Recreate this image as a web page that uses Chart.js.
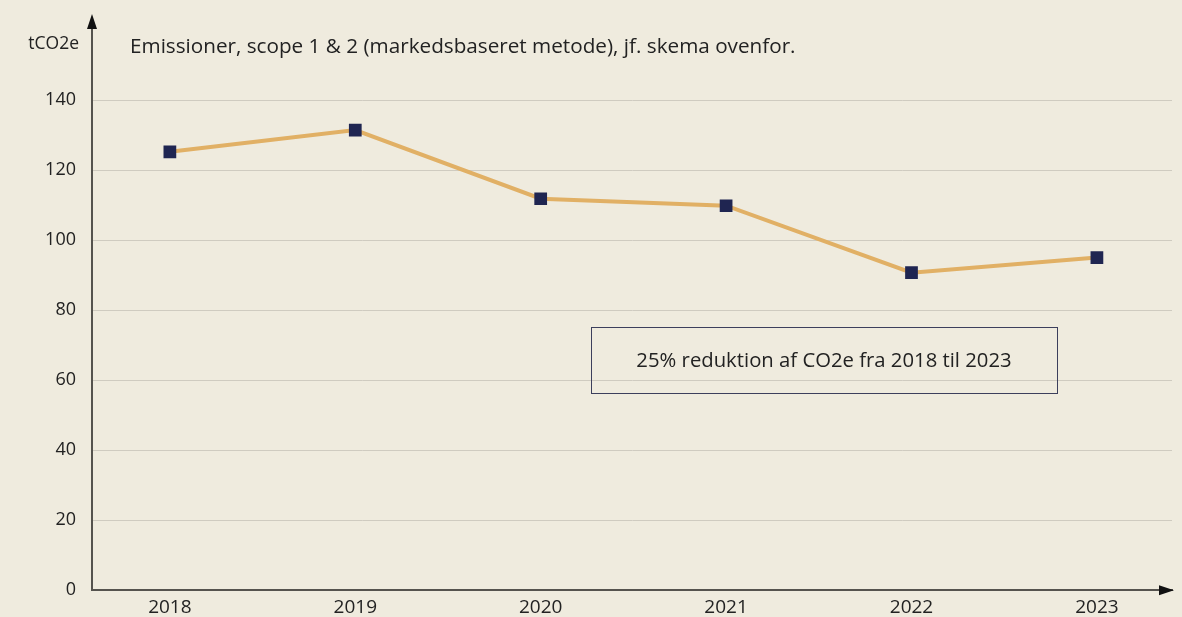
<!DOCTYPE html>
<html>
<head>
<meta charset="utf-8">
<script src="https://cdn.jsdelivr.net/npm/chart.js@4/dist/chart.umd.min.js"></script>
<style>
  html, body { margin: 0; padding: 0; background: #efebde; }
  #wrap { width: 1182px; height: 617px; position: relative; }
</style>
</head>
<body>
<div id="wrap"><canvas id="chart"></canvas></div>
<script>
const years = [2018, 2019, 2020, 2021, 2022, 2023];
const emissions = [125.2, 131.4, 111.8, 109.8, 90.7, 95];
const yTicks = [0, 20, 40, 60, 80, 100, 120, 140];
const unitLabel = "tCO2e";
const titleText = "Emissioner, scope 1 & 2 (markedsbaseret metode), jf. skema ovenfor.";
const noteText = "25% reduktion af CO2e fra 2018 til 2023";

const FONT = "'Open Sans', 'Noto Sans', sans-serif";
const axisColor = "#55534e";

// axes arrows, titles and the note box
const decorations = {
  id: "decorations",
  afterDraw(chart) {
    const ctx = chart.ctx;
    const { left, right, bottom } = chart.chartArea;
    ctx.save();
    ctx.strokeStyle = axisColor;
    ctx.fillStyle = "#111";
    ctx.lineWidth = 2;
    // y axis extension + arrow
    ctx.beginPath();
    ctx.moveTo(left, chart.chartArea.top);
    ctx.lineTo(left, 24);
    ctx.stroke();
    ctx.beginPath();
    ctx.moveTo(left, 14);
    ctx.lineTo(left - 5, 29);
    ctx.lineTo(left + 5, 29);
    ctx.closePath();
    ctx.fill();
    // x axis arrow
    ctx.beginPath();
    ctx.moveTo(right + 2, bottom);
    ctx.lineTo(right - 13, bottom - 5);
    ctx.lineTo(right - 13, bottom + 5);
    ctx.closePath();
    ctx.fill();

    ctx.fillStyle = "#222";
    ctx.textBaseline = "middle";
    ctx.textAlign = "right";
    ctx.font = "17.5px " + FONT;
    ctx.fillText(unitLabel, 79, 44);
    ctx.textAlign = "left";
    ctx.font = "20.7px " + FONT;
    ctx.fillText(titleText, 130, 47);

    // note box
    ctx.strokeStyle = "#3c3f5c";
    ctx.lineWidth = 1;
    ctx.strokeRect(591.5, 327.5, 466, 66);
    ctx.textAlign = "center";
    ctx.font = "20.3px " + FONT;
    ctx.fillText(noteText, 824, 361);
    ctx.restore();
  }
};

new Chart(document.getElementById("chart"), {
  type: "line",
  data: {
    datasets: [{
      data: years.map((y, i) => ({ x: y, y: emissions[i] })),
      borderColor: "#e1b065",
      borderWidth: 4,
      pointStyle: "rect",
      pointRadius: 9,
      pointBackgroundColor: "#1f2551",
      pointBorderColor: "#1f2551",
      pointBorderWidth: 0,
      tension: 0
    }]
  },
  options: {
    responsive: true,
    maintainAspectRatio: false,
    animation: false,
    layout: { padding: { top: 100, right: 10, left: 0, bottom: -10 } },
    plugins: { legend: { display: false }, tooltip: { enabled: false } },
    scales: {
      x: {
        type: "linear",
        min: 2017.58,
        max: 2023.405,
        afterBuildTicks: (s) => { s.ticks = years.map(v => ({ value: v })); },
        grid: { display: false, drawTicks: false },
        border: { color: axisColor, width: 2 },
        ticks: {
          color: "#222",
          padding: 6,
          font: { family: FONT, size: 19 },
          callback: (v) => String(v)
        }
      },
      y: {
        min: 0,
        max: 140,
        afterBuildTicks: (s) => { s.ticks = yTicks.map(v => ({ value: v })); },
        afterFit: (s) => { s.width = 92; },
        grid: { color: "#cfcbc0", lineWidth: 1, drawTicks: false },
        border: { color: axisColor, width: 2 },
        ticks: {
          color: "#222",
          padding: 16,
          font: { family: FONT, size: 18 }
        }
      }
    }
  },
  plugins: [decorations]
});
</script>
</body>
</html>
